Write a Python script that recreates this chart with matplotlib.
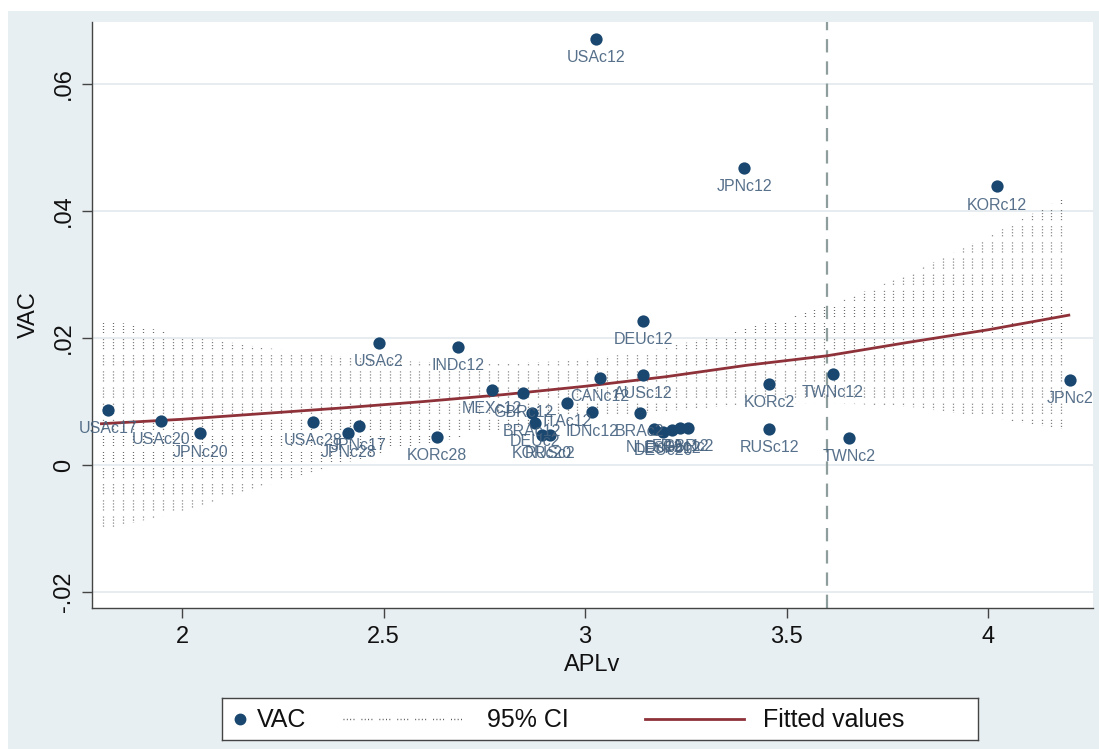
import matplotlib
matplotlib.use("Agg")
import matplotlib.pyplot as plt
from matplotlib.patches import Rectangle
import numpy as np

plt.rcParams['font.family'] = ['Liberation Sans', 'DejaVu Sans']

# country-sector points (APLv, VAC)
labels = ['USAc12', 'JPNc12', 'KORc12', 'DEUc12', 'USAc2', 'INDc12',
          'USAc17', 'USAc20', 'JPNc20', 'USAc28', 'JPNc17', 'JPNc28',
          'KORc28', 'MEXc12', 'GBRc12', 'ITAc12', 'CANc12', 'AUSc12',
          'IDNc12', 'BRAc12', 'DEUc2', 'KORc20', 'RUSc2', 'BRAc2',
          'NLDc12', 'DEUc20', 'ESPc12', 'FRAc12', 'GBRc2',
          'KORc2', 'RUSc12', 'TWNc12', 'TWNc2', 'JPNc2']
aplv = [3.027, 3.395, 4.022, 3.144, 2.489, 2.685,
        1.816, 1.948, 2.045, 2.325, 2.439, 2.412,
        2.633, 2.769, 2.846, 2.955, 3.037, 3.144,
        3.017, 2.868, 2.876, 2.893, 2.913, 3.136,
        3.171, 3.194, 3.216, 3.236, 3.256,
        3.457, 3.457, 3.615, 3.655, 4.203]
vac = [0.0671, 0.0468, 0.0439, 0.0227, 0.0192, 0.0186,
       0.0087, 0.0069, 0.0050, 0.0068, 0.0061, 0.0050,
       0.0044, 0.0118, 0.0113, 0.0098, 0.0137, 0.0142,
       0.0083, 0.0082, 0.0066, 0.0047, 0.0047, 0.0082,
       0.0057, 0.0052, 0.0055, 0.0058, 0.0058,
       0.0128, 0.0057, 0.0143, 0.0043, 0.0134]

# fitted values and 95% CI
fit_x = [1.8, 2.0, 2.2, 2.4, 2.6, 2.8, 3.0, 3.2, 3.4, 3.6, 3.8, 4.0, 4.2]
fit_y = [0.0065, 0.0072, 0.0081, 0.0090, 0.0100, 0.0111, 0.0124,
         0.0139, 0.0157, 0.0172, 0.0193, 0.0213, 0.0236]
ci_lo = [-0.0102, -0.0074, -0.0034, 0.0003, 0.0033, 0.0056, 0.0072,
         0.0085, 0.0095, 0.0098, 0.0092, 0.0075, 0.0055]
ci_hi = [0.0230, 0.0205, 0.0185, 0.0170, 0.0162, 0.0160, 0.0165,
         0.0185, 0.0215, 0.0250, 0.0300, 0.0360, 0.0425]

xticks = [2, 2.5, 3, 3.5, 4]
xticklabels = ['2', '2.5', '3', '3.5', '4']
yticks = [-0.02, 0, 0.02, 0.04, 0.06]
yticklabels = ['-.02', '0', '.02', '.04', '.06']
cutoff = 3.6
legend_names = ['VAC', '95% CI', 'Fitted values']

navy = '#1a476f'
maroon = '#8e3139'
dotgray = '#555555'
dotstyle = (0, (0.7, 1.7, 0.7, 1.7, 0.7, 1.7, 0.7, 5.0))
bg = '#e8eff2'

fig = plt.figure(figsize=(10.99, 7.49), dpi=100)
fig.patch.set_facecolor('white')
fig.patches.append(Rectangle((8/1099, 0), 1, 1 - 11/749, transform=fig.transFigure,
                             facecolor=bg, edgecolor='none', zorder=-10))

ax = fig.add_axes([92/1099, 1 - 608/749, (1093 - 92)/1099, (608 - 22)/749])
ax.set_facecolor('white')
ax.set_xlim(1.7767, 4.26)
ax.set_ylim(-0.02252, 0.06977)

for s in ['top', 'right']:
    ax.spines[s].set_visible(False)
for s in ['left', 'bottom']:
    ax.spines[s].set_color('#444444')
    ax.spines[s].set_linewidth(1.0)

for yv in yticks:
    ax.axhline(yv, color='#e4ebee', lw=1.3, zorder=0)

# CI band: dotted vertical pattern clipped to the band
band = ax.fill_between(fit_x, ci_lo, ci_hi, facecolor='none', edgecolor='none')
cols = np.arange(1.805, 4.21, 0.0245)
vl = ax.vlines(cols, -0.03, 0.08, colors=dotgray, lw=0.9,
               linestyles=[dotstyle], zorder=1)
vl.set_clip_path(band.get_paths()[0], ax.transData)

ax.axvline(cutoff, color='#8d9e9c', lw=1.6, ls=(0, (6, 4)), zorder=1.5)

ax.plot(fit_x, fit_y, color=maroon, lw=2.0, zorder=2)

ax.scatter(aplv, vac, s=78, color=navy, zorder=3, linewidths=0)
for lab, xv, yv in zip(labels, aplv, vac):
    ax.annotate(lab, (xv, yv), xytext=(0, -13.5), textcoords='offset points',
                ha='center', va='center', fontsize=11.5, color='#45617e',
                alpha=0.9, zorder=4)

ax.set_xticks(xticks)
ax.set_xticklabels(xticklabels)
ax.set_yticks(yticks)
ax.set_yticklabels(yticklabels, rotation=90, va='center')
ax.tick_params(axis='both', labelsize=17, length=7, width=1.0, color='#444444',
               labelcolor='#111111')
ax.tick_params(axis='x', pad=6)
ax.tick_params(axis='y', pad=5)

ax.set_xlabel('APLv', fontsize=17, color='#111111', labelpad=4)
ax.set_ylabel('VAC', fontsize=17, color='#111111', labelpad=10)

# legend box drawn by hand (Stata-style layout)
lax = fig.add_axes([222/1099, 1 - 740/749, (978 - 222)/1099, 42/749])
lax.set_xlim(0, 1)
lax.set_ylim(0, 1)
lax.set_xticks([])
lax.set_yticks([])
lax.set_facecolor('white')
for s in lax.spines.values():
    s.set_color('#444444')
    s.set_linewidth(1.0)
lax.plot([0.024], [0.5], 'o', color=navy, markersize=7.5)
lax.text(0.046, 0.47, legend_names[0], fontsize=18, va='center', ha='left', color='#111111')
lax.plot([0.16, 0.325], [0.5, 0.5], color=dotgray, lw=1.0, ls=dotstyle)
lax.text(0.35, 0.47, legend_names[1], fontsize=18, va='center', ha='left', color='#111111')
lax.plot([0.56, 0.69], [0.5, 0.5], color=maroon, lw=2.0)
lax.text(0.715, 0.47, legend_names[2], fontsize=18, va='center', ha='left', color='#111111')

fig.savefig('out.png', dpi=100, facecolor=fig.get_facecolor())
